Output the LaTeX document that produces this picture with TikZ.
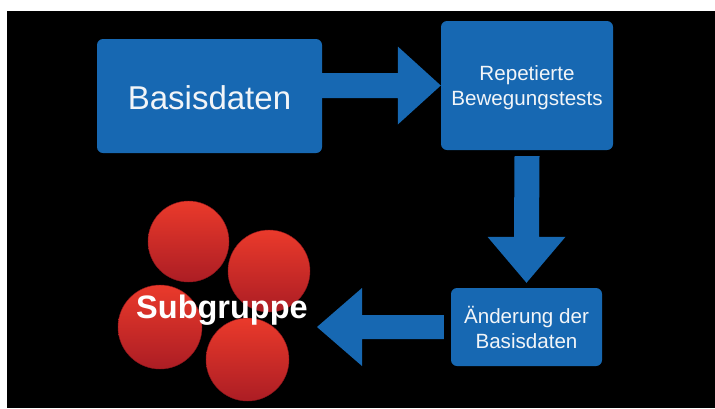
\documentclass[tikz,border=0pt]{standalone}
\usepackage{fontspec}
\setmainfont{Liberation Sans}
\usetikzlibrary{calc}
\definecolor{boxblue}{RGB}{23,104,178}
\definecolor{txtwhite}{RGB}{242,245,248}
\definecolor{redtop}{RGB}{234,58,43}
\definecolor{redbot}{RGB}{172,29,36}
\definecolor{redrim}{RGB}{140,22,28}
\tikzset{
  box/.style={fill=boxblue, rounded corners=6pt, inner sep=0pt},
  lbl/.style={text=txtwhite, align=center, inner sep=0pt},
  bigarrow/.style={fill=boxblue},
  ball/.style={circle, inner sep=0pt, shading=axis, top color=redtop, bottom color=redbot, draw=redrim, line width=0.4pt},
}
\begin{document}
\begin{tikzpicture}[x=1pt,y=-1pt]
\fill[white] (0,0) rectangle (715,408);
\fill[black] (7,11) rectangle (715,408);
\useasboundingbox (0,0) rectangle (715,408);

% boxes
\node[box, minimum width=225pt, minimum height=114pt] (b1) at (209.5,96) {};
\node[box, minimum width=172pt, minimum height=129pt] (b2) at (527,85.5) {};
\node[box, minimum width=151pt, minimum height=78pt] (b3) at (526.5,327) {};

\node[lbl, font=\fontsize{33}{38}\selectfont, anchor=base] (t1) at ($(b1.center)+(0,13)$) {Basisdaten};
\node[lbl, font=\fontsize{20.6}{25}\selectfont] (t2) at ($(b2.center)+(0,2.6)$) {Repetierte\\Bewegungstests};
\node[lbl, font=\fontsize{20.6}{25}\selectfont] (t3) at ($(b3.center)+(0,0.8)$) {Änderung der\\Basisdaten};

% arrow 1 (right)
\coordinate (a1s) at (b1.east |- b2.west);
\coordinate (a1t) at (b2.west);
\fill[bigarrow] ($(a1s)+(0,-12.5)$) -- ($(a1t)+(-43,-12.5)$) -- ($(a1t)+(-43,-39)$) -- (a1t)
  -- ($(a1t)+(-43,39)$) -- ($(a1t)+(-43,12.5)$) -- ($(a1s)+(0,12.5)$) -- cycle;

% arrow 2 (down)
\coordinate (a2s) at ($(b2.south)+(0,6)$);
\coordinate (a2t) at ($(b3.north)+(0,-5)$);
\fill[bigarrow] ($(a2s)+(-12.5,0)$) -- ($(a2s)+(12.5,0)$) -- ($(a2t)+(12.5,-46)$) -- ($(a2t)+(39,-46)$) -- (a2t)
  -- ($(a2t)+(-39,-46)$) -- ($(a2t)+(-12.5,-46)$) -- cycle;

% arrow 3 (left)
\coordinate (a3s) at ($(b3.west)+(-7,0)$);
\coordinate (a3t) at (317,327);
\fill[bigarrow] ($(a3s)+(0,-12)$) -- ($(a3t)+(45,-12)$) -- ($(a3t)+(45,-39)$) -- (a3t)
  -- ($(a3t)+(45,39)$) -- ($(a3t)+(45,12)$) -- ($(a3s)+(0,12)$) -- cycle;

% circles
\node[ball, minimum size=81pt] (c1) at (188.5,241.5) {};
\node[ball, minimum size=82pt] (c2) at (269,271) {};
\node[ball, minimum size=84pt] (c3) at (160,327) {};
\node[ball, minimum size=83pt] (c4) at (247.5,359.5) {};

\node[text=white, inner sep=0pt, anchor=base, font=\fontsize{32.5}{36}\selectfont\bfseries] (sg) at (222,318) {Subgruppe};
\end{tikzpicture}
\end{document}
